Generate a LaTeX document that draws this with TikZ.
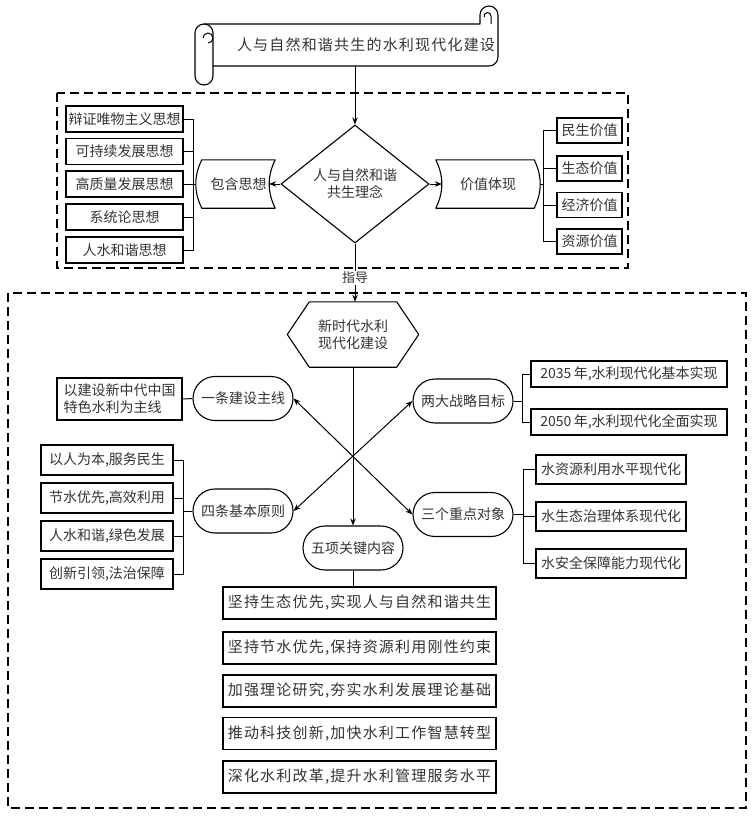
\documentclass[tikz,border=0pt]{standalone}
\usepackage{fontspec}
\setmainfont{Noto Sans CJK SC}
\newfontfamily\spacedfont[LetterSpace=8]{Noto Sans CJK SC}
\usetikzlibrary{shapes.geometric,shapes.misc,arrows.meta,calc}
\begin{document}
\begin{tikzpicture}[x=1pt,y=1pt,
  every node/.style={font=\fontsize{14}{17}\selectfont, text=black!80},
  box/.style={draw=black, line width=1.2pt, rectangle, inner sep=0pt},
  pill/.style={draw=black, line width=1.1pt, rounded rectangle, inner sep=0pt, minimum width=100, minimum height=44},
  conn/.style={line width=1pt, draw=black},
  arr/.style={conn, -{Stealth[length=7pt,width=5.5pt]}},
  darr/.style={conn, {Stealth[length=7pt,width=5.5pt]}-{Stealth[length=7pt,width=5.5pt]}},
  dbox/.style={line width=1.3pt, dash pattern=on 9pt off 5pt},
  shapeline/.style={line width=1.1pt, line join=round},
  keybox/.style={box, minimum width=273, minimum height=32, font=\spacedfont\fontsize{15}{18}\selectfont},
]
\useasboundingbox (0,0) rectangle (752,-816);

% ---------- scroll title ----------
\draw[shapeline]
  (213,-66) -- (489,-66) arc[start angle=-90, end angle=0, radius=9] -- (498,-15)
  arc[start angle=0, end angle=180, radius=9] -- (480,-24) -- (204,-24);
\draw[shapeline] (204,-24) arc[start angle=90, end angle=180, radius=9] -- (195,-76)
  arc[start angle=180, end angle=360, radius=9] -- (213,-33) arc[start angle=0, end angle=90, radius=9];
\draw[line width=1pt] (208,-43) arc[start angle=-90, end angle=180, radius=5];
\draw[line width=1pt] (491,-24) -- (491,-16) arc[start angle=0, end angle=200, radius=3.5];
\node[font=\spacedfont\fontsize{15}{18}\selectfont] (title) at (366,-45) {人与自然和谐共生的水利现代化建设};
\coordinate (scrollbot) at (355,-66);

% ---------- upper frame ----------
\draw[dbox] (57,-93) rectangle (628,-268);

\node[draw, diamond, line width=1.1pt, minimum width=148, minimum height=118, inner sep=0pt,
      aspect=1.25, align=center] (dia) at (355,-184) {人与自然和谐\\共生理念};
\draw[arr] (scrollbot) -- (dia.north);

% left thoughts
\node[box, minimum width=117, minimum height=26] (t1) at (124.5,-119) {辩证唯物主义思想};
\node[box, minimum width=117, minimum height=26] (t2) at (124.5,-151.5) {可持续发展思想};
\node[box, minimum width=117, minimum height=26] (t3) at (124.5,-184) {高质量发展思想};
\node[box, minimum width=117, minimum height=26] (t4) at (124.5,-217) {系统论思想};
\node[box, minimum width=117, minimum height=26] (t5) at (124.5,-250) {人水和谐思想};

\node[minimum width=73, minimum height=48, inner sep=0pt] (bh) at (238.5,-184) {包含思想};
\draw[shapeline] (bh.north west) -- (bh.north east)
  .. controls ($(bh.north east)+(-8,-16)$) and ($(bh.south east)+(-8,16)$) .. (bh.south east)
  -- (bh.south west)
  .. controls ($(bh.south west)+(-8,16)$) and ($(bh.north west)+(-8,-16)$) .. (bh.north west) -- cycle;

\coordinate (jL) at (193,-184);
\foreach \t in {t1,t2,t3,t4,t5} \draw[conn] (\t.east) -| (jL);
\draw[conn] (jL) -- ($(bh.west)+(-6,0)$);
\draw[arr] (dia.west) -- ($(bh.east)+(-6,0)$);

% right values
\node[minimum width=98, minimum height=48, inner sep=0pt] (jz) at (485,-184) {\hspace{6pt}价值体现};
\draw[shapeline] (jz.north west) -- (jz.north east)
  .. controls ($(jz.north east)+(8,-16)$) and ($(jz.south east)+(8,16)$) .. (jz.south east)
  -- (jz.south west)
  .. controls ($(jz.south west)+(8,16)$) and ($(jz.north west)+(8,-16)$) .. (jz.north west) -- cycle;
\draw[arr] (dia.east) -- ($(jz.west)+(6,0)$);

\node[box, minimum width=65, minimum height=25] (v1) at (589.5,-130.5) {民生价值};
\node[box, minimum width=65, minimum height=25] (v2) at (589.5,-168.5) {生态价值};
\node[box, minimum width=65, minimum height=25] (v3) at (589.5,-205) {经济价值};
\node[box, minimum width=65, minimum height=25] (v4) at (589.5,-241.5) {资源价值};
\coordinate (jR) at (543,-184);
\draw[conn] ($(jz.east)+(6,0)$) -- (jR);
\foreach \v in {v1,v2,v3,v4} \draw[conn] (\v.west) -| (jR);

% ---------- lower frame ----------
\draw[dbox] (8,-293) rectangle (746,-808);

\node[minimum width=131, minimum height=65, inner sep=0pt, align=center] (hex) at (353,-334.5) {新时代水利\\现代化建设};
\draw[shapeline] (hex.west) -- ($(hex.north west)+(22,0)$) -- ($(hex.north east)+(-22,0)$)
  -- (hex.east) -- ($(hex.south east)+(-22,0)$) -- ($(hex.south west)+(22,0)$) -- cycle;

\draw[arr] (dia.south) -- (dia.south |- hex.north)
  node[pos=0.59, fill=white, inner sep=1pt, font=\fontsize{13}{15}\selectfont] (zhidao) {指导};

% one main line
\node[pill] (yt) at (243,-398.5) {一条建设主线};
\node[box, minimum width=125, minimum height=42, align=left] (ytb) at (119.5,-399) {以建设新中代中国\\特色水利为主线};
\draw[conn] (ytb.east) -- (yt.west);

% two goals
\node[pill] (ld) at (463,-401) {两大战略目标};
\node[box, minimum width=196, minimum height=26] (g1) at (629,-374) {2035\,年,水利现代化基本实现};
\node[box, minimum width=196, minimum height=26] (g2) at (629,-422) {2050\,年,水利现代化全面实现};
\coordinate (jG) at (522,-401);
\draw[conn] (ld.east) -- (jG);
\foreach \g in {g1,g2} \draw[conn] (\g.west) -| (jG);

% four principles
\node[pill] (st) at (243,-511) {四条基本原则};
\node[box, minimum width=132, minimum height=30] (p1) at (107,-460) {以人为本,服务民生};
\node[box, minimum width=132, minimum height=30] (p2) at (107,-498) {节水优先,高效利用};
\node[box, minimum width=132, minimum height=30] (p3) at (107,-536) {人水和谐,绿色发展};
\node[box, minimum width=132, minimum height=30] (p4) at (107,-574) {创新引领,法治保障};
\coordinate (jP) at (183,-511);
\draw[conn] (st.west) -- (jP);
\foreach \p in {p1,p2,p3,p4} \draw[conn] (\p.east) -| (jP);

% three objects
\node[pill] (sg) at (463,-514.5) {三个重点对象};
\node[box, minimum width=150, minimum height=29] (o1) at (611,-469.5) {水资源利用水平现代化};
\node[box, minimum width=150, minimum height=29] (o2) at (611,-516.5) {水生态治理体系现代化};
\node[box, minimum width=150, minimum height=29] (o3) at (611,-563.5) {水安全保障能力现代化};
\coordinate (jO) at (523,-514.5);
\draw[conn] (sg.east) -- (jO);
\foreach \o in {o1,o2,o3} \draw[conn] (\o.west) -| (jO);

% crossing arrows
\draw[darr] (yt.east) -- (sg.west);
\draw[darr] (ld.west) -- (st.east);

% five key contents
\node[pill] (wu) at (353,-548) {五项关键内容};
\draw[arr] (hex.south) -- (wu.north);
\node[keybox] (k1) at (359.5,-603) {坚持生态优先,实现人与自然和谐共生};
\node[keybox] (k2) at (359.5,-648) {坚持节水优先,保持资源利用刚性约束};
\node[keybox] (k3) at (359.5,-691) {加强理论研究,夯实水利发展理论基础};
\node[keybox] (k4) at (359.5,-733.5) {推动科技创新,加快水利工作智慧转型};
\node[keybox] (k5) at (359.5,-777) {深化水利改革,提升水利管理服务水平};
\draw[conn] (wu.south) -- (wu.south |- k1.north);
\end{tikzpicture}
\end{document}
